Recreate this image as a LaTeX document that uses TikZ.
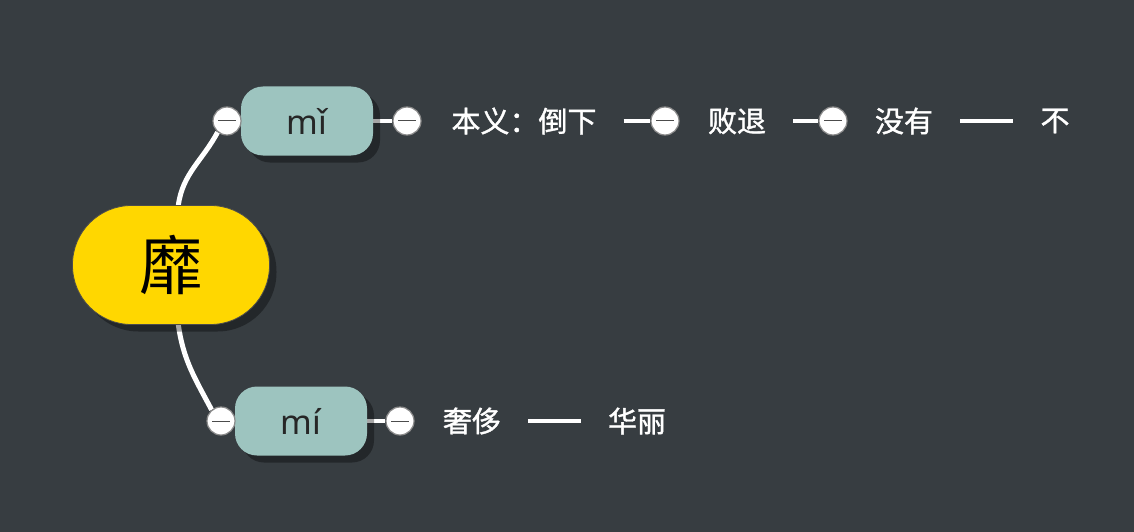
\documentclass[tikz,border=0pt]{standalone}
\usepackage{fontspec}
\setmainfont{Noto Sans CJK SC}
\newfontfamily\leaffont{Noto Sans CJK SC}[FakeBold=1.3]
\newfontfamily\pyfont{Noto Sans}
\usetikzlibrary{shadows}
\pgfdeclarelayer{bg}
\pgfdeclarelayer{conn}
\pgfsetlayers{bg,conn,main}
\definecolor{bgc}{HTML}{373D41}
\definecolor{rootc}{HTML}{FFD700}
\definecolor{subc}{HTML}{9DC4BF}
\definecolor{togc}{HTML}{8A8A8A}
\begin{document}
\begin{tikzpicture}[x=1pt,y=-1pt,
  rootbox/.style={draw=black!70,line width=0.8pt,fill=rootc,rounded corners=59pt,minimum width=197pt,minimum height=119pt,inner sep=0pt,
    font=\fontsize{64}{70}\selectfont,text=black,
    drop shadow={shadow xshift=7pt,shadow yshift=-7pt,fill=black,opacity=0.35}},
  subbox/.style={fill=subc,rounded corners=22pt,minimum width=132pt,minimum height=69pt,inner sep=0pt,
    font=\pyfont\fontsize{34}{40}\selectfont,text=black!85,
    drop shadow={shadow xshift=7pt,shadow yshift=-7pt,fill=black,opacity=0.35}},
  toggle/.style={circle,draw=togc,line width=1.2pt,fill=white,minimum size=28pt,inner sep=0pt,
    path picture={\draw[black!70,line width=1pt] ([xshift=-9pt]path picture bounding box.center) -- ([xshift=9pt]path picture bounding box.center);}},
  leaf/.style={text=white,font=\leaffont\fontsize{29}{34}\selectfont,inner xsep=27pt,inner ysep=2pt},
  branch/.style={draw=white,line width=5pt},
  link/.style={draw=white,line width=4pt}
]
\begin{pgfonlayer}{bg}
\fill[bgc] (0,0) rectangle (1134,532);
\end{pgfonlayer}
\useasboundingbox (0,0) rectangle (1134,532);
% nodes
\node[rootbox] (root) at (171,265) {靡};
\node[subbox] (m1) at (307,121) {mǐ};
\node[subbox] (m2) at (301,421) {mí};
\node[toggle] (c1L) at (227,121) {};
\node[toggle] (c4L) at (221,421) {};
\node[toggle] (c1R) at (407,121) {};
\node[toggle] (c4R) at (400,421) {};
\node[leaf] (t1) at (524,121) {本义：倒下};
\node[toggle] (c2) at (665,121) {};
\node[leaf] (t2) at (737,121) {败退};
\node[toggle] (c3) at (833,121) {};
\node[leaf] (t3) at (904,121) {没有};
\node[leaf] (t4) at (1055,121) {不};
\node[leaf] (t5) at (472,421) {奢侈};
\node[leaf] (t6) at (637,421) {华丽};
% connectors
\begin{pgfonlayer}{conn}
\draw[branch] (root.83) to[out=82,in=-118] (c1L.230);
\draw[branch] (root.-83) to[out=-82,in=118] (c4L.130);
\draw[link] (m1.east) -- (c1R.west);
\draw[link] (m2.east) -- (c4R.west);
\draw[link] (t1.east) -- (c2.west);
\draw[link] (t2.east) -- (c3.west);
\draw[link] (t3.east) -- (t4.west);
\draw[link] (t5.east) -- (t6.west);
\end{pgfonlayer}
\end{tikzpicture}
\end{document}
